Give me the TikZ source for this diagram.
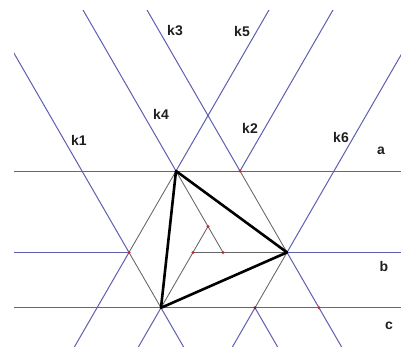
\documentclass[tikz,border=0pt]{standalone}
\usepackage{fontspec}
\setmainfont{Liberation Sans}
\begin{document}
\begin{tikzpicture}[x=1pt,y=-1pt,
  bline/.style={draw={rgb,255:red,95;green,95;blue,175},line width=1pt},
  gline/.style={draw={rgb,255:red,100;green,100;blue,105},line width=0.85pt},
  tri/.style={draw=black,line width=2.6pt,line join=round},
  lab/.style={font=\bfseries\fontsize{14}{14}\selectfont,text={rgb,255:red,30;green,30;blue,30},inner sep=0pt},
  rdot/.style={fill={rgb,255:red,200;green,40;blue,40}},
  ddot/.style={fill={rgb,255:red,110;green,30;blue,60}}]
\fill[white] (0,0) rectangle (401,346);
\useasboundingbox (0,0) rectangle (401,346);
% key points
\coordinate (A) at (176,171);
\coordinate (P) at (240,171);
\coordinate (K1a) at (82,171);
\coordinate (K6a) at (334,171);
\coordinate (L) at (129,252.4);
\coordinate (Q) at (193,252.4);
\coordinate (M) at (223,252.4);
\coordinate (B) at (287,252.4);
\coordinate (C) at (161,307.8);
\coordinate (R) at (255,307.8);
\coordinate (S) at (319,307.8);
\coordinate (T) at (208,226.4);
% line ends
\coordinate (aL) at (14,171);   \coordinate (aR) at (401,171);
\coordinate (bL) at (14,252.4); \coordinate (bR) at (401,252.4);
\coordinate (cL) at (14,307.8); \coordinate (cR) at (401,307.8);
\coordinate (k1t) at (-18,-2.2);  \coordinate (k1b) at (192,361.5);
\coordinate (k4t) at (76,-2.2);   \coordinate (k4b) at (286,361.5);
\coordinate (k3t) at (140,-2.2);  \coordinate (k3b) at (350,361.5);
\coordinate (k5t) at (276,-2.2);  \coordinate (k5b) at (66,361.5);
\coordinate (k2t) at (340,-2.2);  \coordinate (k2b) at (130,361.5);
\coordinate (k6t) at (434,-2.2);  \coordinate (k6b) at (224,361.5);
\begin{scope}
\clip (14,10) rectangle (401,346);
% blue lines
\path[bline] (aL) -- (A) (P) -- (aR);
\path[bline] (bL) -- (L) (B) -- (bR);
\path[bline] (cL) -- (C) (R) -- (cR);
\path[bline] (k1t) -- (L) (C) -- (k1b);
\path[bline] (k4t) -- (A) (R) -- (k4b);
\path[bline] (k3t) -- (P) (B) -- (k3b);
\path[bline] (k5t) -- (A) (L) -- (k5b);
\path[bline] (k2t) -- (P) (C) -- (k2b);
\path[bline] (k6t) -- (B) (R) -- (k6b);
% grey segments
\path[gline] (A) -- (P) (Q) -- (B) (C) -- (R);
\path[gline] (A) -- (L) -- (C);
\path[gline] (A) -- (M) (C) -- (T);
\path[gline] (P) -- (B) -- (R);
\end{scope}
% thick triangle
\path[tri] (A) -- (B) -- (C) -- cycle;
% dots
\foreach \p in {P,L,Q,M,T,S} \fill[rdot] (\p) circle (1.6);
\fill[ddot] (R) circle (1.6);
% labels
\node[lab] (k1) at (79,140) {k1};
\node[lab] (k4) at (161,114) {k4};
\node[lab] (k3) at (175,31) {k3};
\node[lab] (k5) at (242,31) {k5};
\node[lab] (k2) at (250,128) {k2};
\node[lab] (k6) at (341,137) {k6};
\node[lab] (la) at (381,151) {a};
\node[lab] (lb) at (384,266) {b};
\node[lab] (lc) at (389,326) {c};
\end{tikzpicture}
\end{document}
